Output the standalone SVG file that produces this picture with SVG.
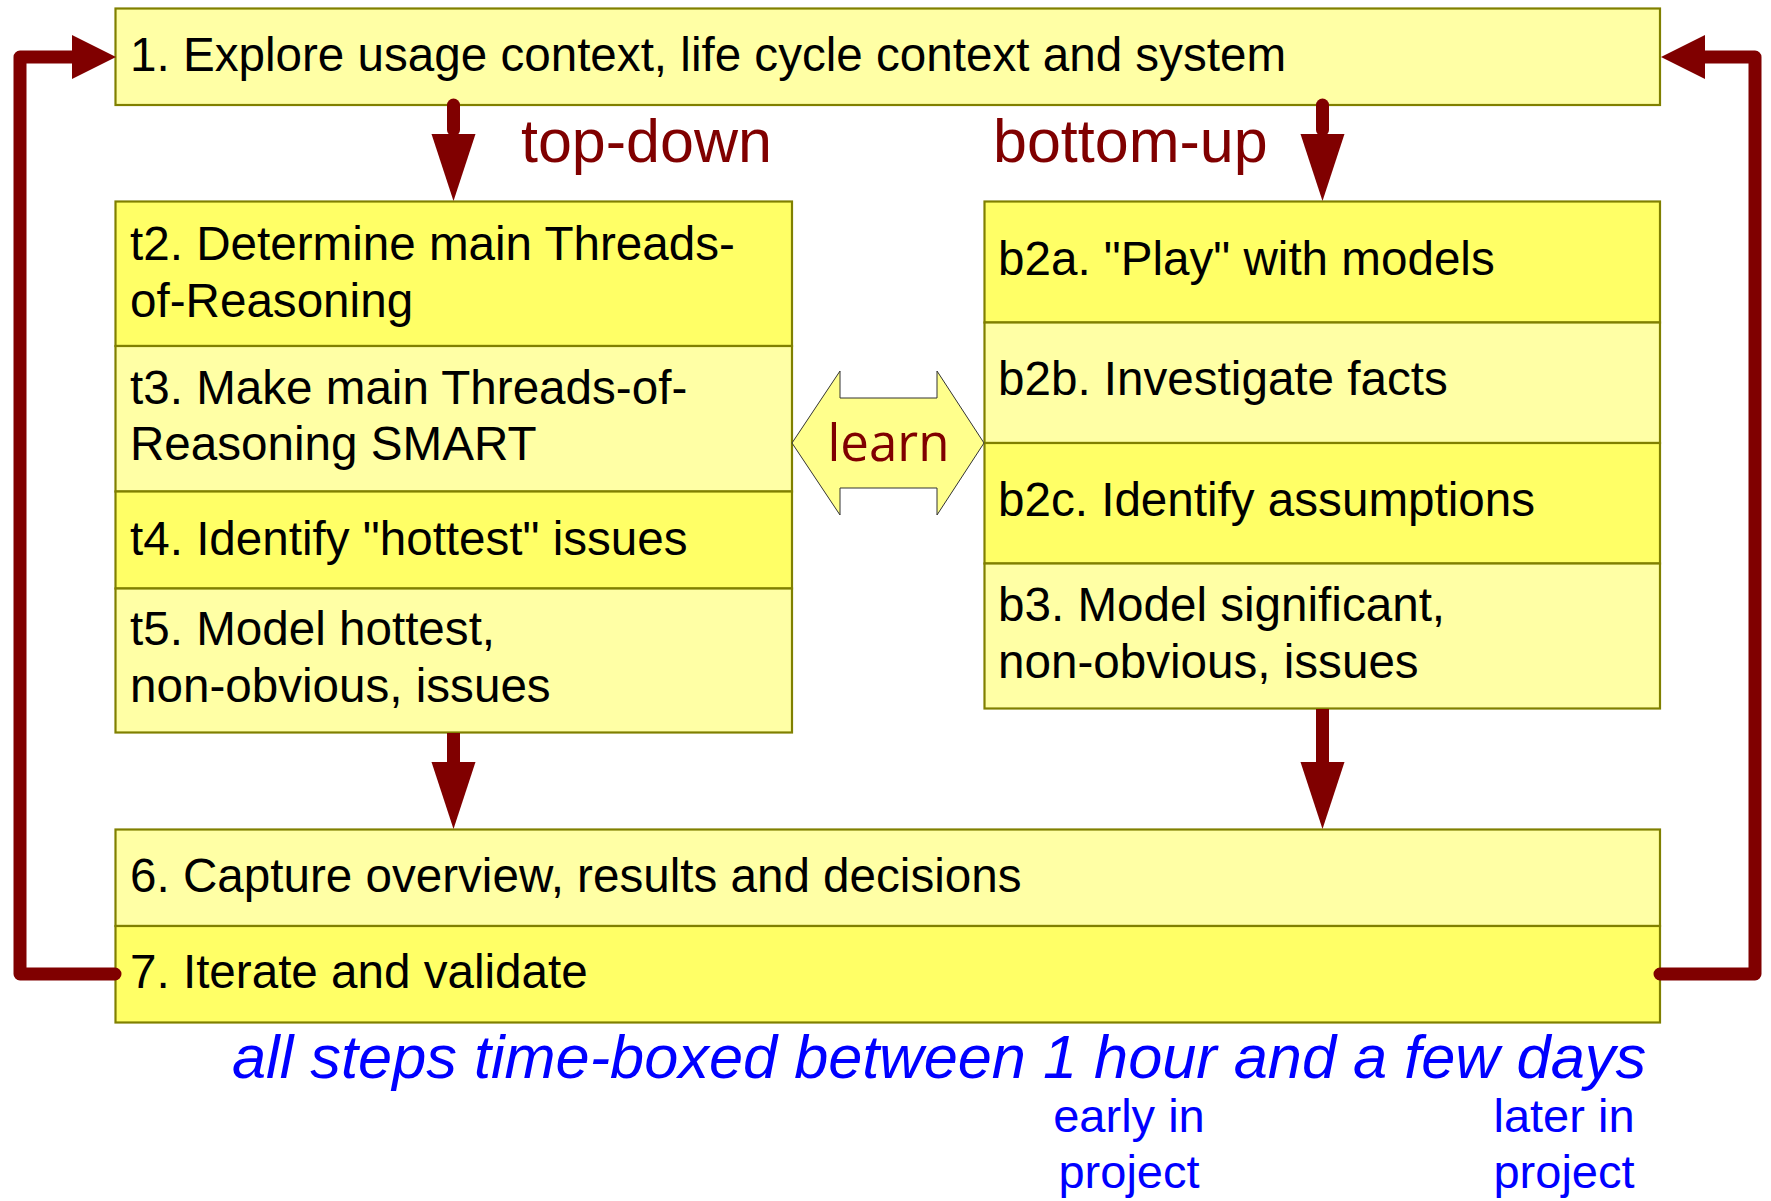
<svg xmlns="http://www.w3.org/2000/svg" width="1771" height="1201" viewBox="0 0 1771 1201">
<style>
.box{stroke:#808000;stroke-width:2.2}
.light{fill:#FFFFA5}
.dark{fill:#FFFF66}
.t{font-family:"Liberation Sans",Arial,sans-serif;font-size:47.6px;fill:#000}
.lbl{font-family:"Liberation Sans",Arial,sans-serif;font-size:61px;fill:#800000}
.line{fill:none;stroke:#800000;stroke-width:13;stroke-linejoin:round;stroke-linecap:round}
.butt{stroke-linecap:butt}
.head{fill:#800000}
.blue{font-family:"Liberation Sans",Arial,sans-serif;fill:#0000FF}
</style>
<rect width="1771" height="1201" fill="#fff"/>

<g id="node1">
  <rect class="box light" x="115.5" y="8.5" width="1544.5" height="96.5"/>
  <text class="t" x="130" y="71">1. Explore usage context, life cycle context and system</text>
</g>

<text class="lbl" x="521" y="162">top-down</text>
<text class="lbl" x="993" y="162">bottom-up</text>

<g id="t2">
  <rect class="box dark" x="115.5" y="201.5" width="676.5" height="144.5"/>
  <text class="t" x="130" y="260">t2. Determine main Threads-</text>
  <text class="t" x="130" y="316.5">of-Reasoning</text>
</g>
<g id="t3">
  <rect class="box light" x="115.5" y="346" width="676.5" height="145.5"/>
  <text class="t" x="130" y="404">t3. Make main Threads-of-</text>
  <text class="t" x="130" y="460">Reasoning SMART</text>
</g>
<g id="t4">
  <rect class="box dark" x="115.5" y="491.5" width="676.5" height="97"/>
  <text class="t" x="130" y="555">t4. Identify "hottest" issues</text>
</g>
<g id="t5">
  <rect class="box light" x="115.5" y="588.5" width="676.5" height="144"/>
  <text class="t" x="130" y="645">t5. Model hottest,</text>
  <text class="t" x="130" y="701.5">non-obvious, issues</text>
</g>

<g id="b2a">
  <rect class="box dark" x="984.5" y="201.5" width="675.5" height="121"/>
  <text class="t" x="998" y="275">b2a. "Play" with models</text>
</g>
<g id="b2b">
  <rect class="box light" x="984.5" y="322.5" width="675.5" height="120.5"/>
  <text class="t" x="998" y="395">b2b. Investigate facts</text>
</g>
<g id="b2c">
  <rect class="box dark" x="984.5" y="443" width="675.5" height="120.5"/>
  <text class="t" x="998" y="516">b2c. Identify assumptions</text>
</g>
<g id="b3">
  <rect class="box light" x="984.5" y="563.5" width="675.5" height="145"/>
  <text class="t" x="998" y="621">b3. Model significant,</text>
  <text class="t" x="998" y="677.5">non-obvious, issues</text>
</g>

<g id="learn">
  <polygon points="792,443 840,371 840,398 937,398 937,371 984,443 937,515 937,488 840,488 840,515" fill="#FFFF8C" stroke="#333" stroke-width="1"/>
  <text x="888.5" y="460.5" text-anchor="middle" font-family="'Open Sans','Noto Sans',sans-serif" font-size="51" fill="#800000">learn</text>
</g>

<g id="node6">
  <rect class="box light" x="115.5" y="829.5" width="1544.5" height="96.5"/>
  <text class="t" x="130" y="891.5">6. Capture overview, results and decisions</text>
</g>
<g id="node7">
  <rect class="box dark" x="115.5" y="926" width="1544.5" height="96.5"/>
  <text class="t" x="130" y="988">7. Iterate and validate</text>
</g>

<g id="connectors">
  <path class="line" d="M115,974 H20 V57 H74"/>
  <polygon class="head" points="116,57 72,35 72,79"/>
  <path class="line" d="M1660,974 H1755 V57 H1700"/>
  <polygon class="head" points="1661,57 1705,35 1705,79"/>
  <path class="line" d="M453.5,105 V130"/>
  <polygon class="head" points="431.5,134 475.5,134 453.5,201"/>
  <path class="line" d="M1322.5,105 V130"/>
  <polygon class="head" points="1300.5,134 1344.5,134 1322.5,201"/>
  <path class="line butt" d="M453.5,733 V764"/>
  <polygon class="head" points="431.5,762 475.5,762 453.5,829"/>
  <path class="line butt" d="M1322.5,709 V764"/>
  <polygon class="head" points="1300.5,762 1344.5,762 1322.5,829"/>
</g>

<text class="blue" x="232" y="1078" font-size="61.3" font-style="italic">all steps time-boxed between 1 hour and a few days</text>
<text class="blue" x="1129" y="1132" font-size="47" text-anchor="middle">early in</text>
<text class="blue" x="1129" y="1187.5" font-size="47" text-anchor="middle">project</text>
<text class="blue" x="1564" y="1132" font-size="47" text-anchor="middle">later in</text>
<text class="blue" x="1564" y="1187.5" font-size="47" text-anchor="middle">project</text>
</svg>
